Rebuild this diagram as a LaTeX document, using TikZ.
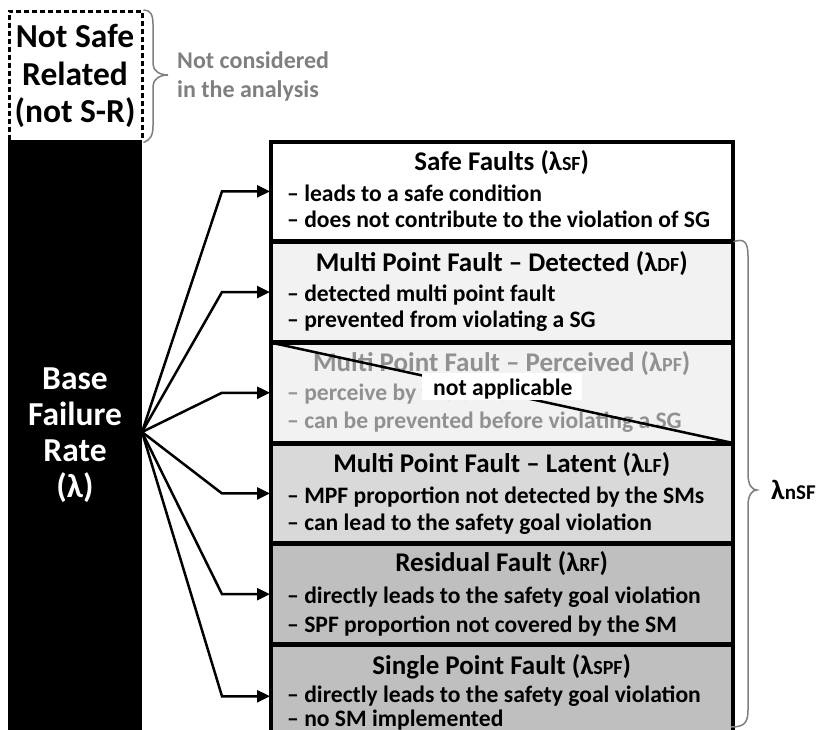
\documentclass[tikz,border=0pt]{standalone}
\usepackage{fontspec}
\setmainfont{Carlito}
\usetikzlibrary{arrows.meta}

\definecolor{fillDF}{HTML}{F2F2F2}
\definecolor{fillPF}{HTML}{F2F2F2}
\definecolor{fillLF}{HTML}{D9D9D9}
\definecolor{fillRF}{HTML}{BFBFBF}
\definecolor{fillSPF}{HTML}{BFBFBF}
\definecolor{mutedtext}{HTML}{7F7F7F}
\definecolor{pftext}{HTML}{919191}
\definecolor{bracegray}{HTML}{7F7F7F}

\newcommand\lamsub[1]{{\fontsize{20}{20}\selectfont #1}}

\tikzset{
  faultbox/.style={draw=black, line width=2.5pt, anchor=north west, inner sep=0pt,
    minimum width=461pt, minimum height=98.2pt},
  boxtitle/.style={anchor=base, inner sep=0pt, font=\bfseries\fontsize{27}{32}\selectfont},
  bullet/.style={anchor=base west, inner sep=0pt, font=\bfseries\fontsize{23.6}{27}\selectfont},
  bigwhite/.style={anchor=base, inner sep=0pt, text=white, font=\bfseries\fontsize{33.5}{40}\selectfont},
  bigblack/.style={anchor=base, inner sep=0pt, text=black, font=\bfseries\fontsize{33.5}{40}\selectfont},
  notetext/.style={anchor=base west, inner sep=0pt, text=mutedtext, font=\bfseries\fontsize{24}{28}\selectfont},
  fanarrow/.style={draw=black, line width=2.5pt, line join=miter, -{Triangle[length=13pt,width=12pt]}},
  bracepath/.style={draw=bracegray, line width=1.5pt},
}

\begin{document}
\begin{tikzpicture}[x=1pt,y=-1pt]
\useasboundingbox (0,0) rectangle (819,729);

% ---- not safe related ----
\node[draw=black, line width=2.5pt, dash pattern=on 5pt off 3pt, anchor=north west,
      minimum width=133pt, minimum height=130pt, inner sep=0pt] (nsr) at (8,10) {};
\node[bigblack] (nsr1) at (75,47) {Not Safe};
\node[bigblack] (nsr2) at (75,85) {Related};
\node[bigblack] (nsr3) at (75,122) {(not S-R)};
\draw[bracepath] (nsr.north east) .. controls (150,10) and (153,14) .. (153,24) -- (153,64)
   .. controls (153,71) and (160,75) .. (168,75) .. controls (160,75) and (153,79) .. (153,86)
   -- (153,126) .. controls (153,136) and (150,140) .. (nsr.south east);
\node[notetext] (nc1) at (177,68) {Not considered};
\node[notetext] (nc2) at (177,97) {in the analysis};

% ---- base failure rate bar ----
\node[fill=black, draw=none, anchor=north west, minimum width=134pt, minimum height=592pt,
      inner sep=0pt] (bar) at (8,140) {};
\node[bigwhite] (bfr1) at (75,389) {Base};
\node[bigwhite] (bfr2) at (75,425) {Failure};
\node[bigwhite] (bfr3) at (75,461) {Rate};
\node[bigwhite] (bfr4) at (75,497) {(λ)};
\coordinate (src) at (142,432);
\coordinate (bend) at (222,0);

% ---- fault class boxes ----
\node[faultbox, fill=white] (sf) at (270,141) {};
\node[faultbox, fill=fillDF] (df) at (sf.south west) {};
\node[faultbox, fill=fillPF] (pf) at (df.south west) {};
\node[faultbox, fill=fillLF] (lf) at (pf.south west) {};
\node[faultbox, fill=fillRF] (rf) at (lf.south west) {};
\node[faultbox, fill=fillSPF, minimum height=101pt] (spf) at (rf.south west) {};

% safe faults
\node[boxtitle] (sft) at ([yshift=-29pt]sf.north) {Safe Faults (λ\lamsub{SF})};
\node[bullet] (sfa) at ([xshift=17pt,yshift=-60pt]sf.north west) {– leads to a safe condition};
\node[bullet] (sfb) at ([xshift=17pt,yshift=-86pt]sf.north west) {– does not contribute to the violation of SG};

% detected
\node[boxtitle] (dft) at ([yshift=-30pt]df.north) {Multi Point Fault – Detected (λ\lamsub{DF})};
\node[bullet] (dfa) at ([xshift=17pt,yshift=-60pt]df.north west) {– detected multi point fault};
\node[bullet] (dfb) at ([xshift=17pt,yshift=-86pt]df.north west) {– prevented from violating a SG};

% perceived (struck out)
\node[boxtitle, text=pftext] (pft) at ([yshift=-29pt]pf.north) {Multi Point Fault – Perceived (λ\lamsub{PF})};
\node[bullet, text=pftext] (pfa) at ([xshift=17pt,yshift=-58pt]pf.north west) {– perceive by the driver};
\node[bullet, text=pftext] (pfb) at ([xshift=17pt,yshift=-86pt]pf.north west) {– can be prevented before violating a SG};
\draw[black, line width=2.5pt] (pf.north west) -- (pf.south east);
\node[fill=white, anchor=north west, minimum width=160pt, minimum height=27pt, inner sep=0pt] (napbox) at (422,373) {};
\node[bullet] (nap) at (433,395) {not applicable};

% latent
\node[boxtitle] (lft) at ([yshift=-29pt]lf.north) {Multi Point Fault – Latent (λ\lamsub{LF})};
\node[bullet] (lfa) at ([xshift=17pt,yshift=-60pt]lf.north west) {– MPF proportion not detected by the SMs};
\node[bullet] (lfb) at ([xshift=17pt,yshift=-87pt]lf.north west) {– can lead to the safety goal violation};

% residual
\node[boxtitle] (rft) at ([yshift=-28pt]rf.north) {Residual Fault (λ\lamsub{RF})};
\node[bullet] (rfa) at ([xshift=17pt,yshift=-60pt]rf.north west) {– directly leads to the safety goal violation};
\node[bullet] (rfb) at ([xshift=17pt,yshift=-89pt]rf.north west) {– SPF proportion not covered by the SM};

% single point
\node[boxtitle] (spft) at ([yshift=-30pt]spf.north) {Single Point Fault (λ\lamsub{SPF})};
\node[bullet] (spfa) at ([xshift=17pt,yshift=-58pt]spf.north west) {– directly leads to the safety goal violation};
\node[bullet] (spfb) at ([xshift=17pt,yshift=-82pt]spf.north west) {– no SM implemented};

% redraw borders so the fills do not hide them
\foreach \b in {sf,df,pf,lf,rf,spf} \draw[black, line width=2.5pt] (\b.north west) rectangle (\b.south east);

% ---- fan of arrows ----
\foreach \b in {sf,df,pf,lf,rf,spf} \draw[fanarrow] (src) -- (bend |- \b.west) -- (\b.west);

% ---- non safe fault brace ----
\draw[bracepath] (df.north east) .. controls (744,238) and (748,242) .. (748,256) -- (748,474)
   .. controls (748,485) and (752,490) .. (757,490) .. controls (752,490) and (748,495) .. (748,506)
   -- (748,710) .. controls (748,723) and (744,727) .. (731,727);
\node[anchor=base west, inner sep=0pt, font=\bfseries\fontsize{28}{30}\selectfont] (lnsf) at (771,499) {λ{\fontsize{21}{21}\selectfont nSF}};
\end{tikzpicture}
\end{document}
